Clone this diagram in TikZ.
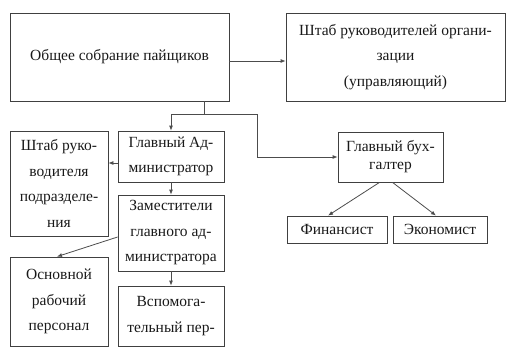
\documentclass[tikz,border=0pt]{standalone}
\usepackage{fontspec}
\setmainfont{Liberation Serif}
\usetikzlibrary{arrows.meta,calc}
\begin{document}
\begin{tikzpicture}[x=1pt,y=-1pt,
  box/.style={draw=black!75,line width=0.8pt,inner sep=0pt,align=center,
    font=\fontsize{15.5}{25.5}\selectfont,text=black!90},
  conn/.style={draw=black!70,line width=0.8pt,-{Latex[length=5pt,width=4pt]}},
  plain/.style={draw=black!70,line width=0.8pt}]
\useasboundingbox (0,0) rectangle (519,353);
\node[box,minimum width=219pt,minimum height=88pt] (b1) at (119.5,57) {Общее собрание пайщиков};
\node[box,minimum width=219pt,minimum height=88pt] (b2) at (395.5,57) {Штаб руководителей органи-\\зации\\(управляющий)};
\node[box,minimum width=106pt,minimum height=51pt] (ga) at (171,156.5) {Главный Ад-\\министратор};
\node[box,minimum width=98pt,minimum height=105pt] (shr) at (59,183.5) {Штаб руко-\\водителя\\подразделе-\\ния};
\node[box,minimum width=105pt,minimum height=50pt,font=\fontsize{15.5}{18}\selectfont] (gb) at (390.5,157) {Главный бух-\\галтер};
\node[box,minimum width=106pt,minimum height=76pt] (zam) at (171,233) {Заместители\\главного ад-\\министратора};
\node[box,minimum width=98pt,minimum height=89pt] (osn) at (59,301.5) {Основной\\рабочий\\персонал};
\node[box,minimum width=106pt,minimum height=60pt] (vsp) at (171,316) {Вспомога-\\тельный пер-};
\node[box,minimum width=100pt,minimum height=27pt] (fin) at (337,229.5) {Финансист};
\node[box,minimum width=94pt,minimum height=27pt] (eko) at (440,229.5) {Экономист};
\coordinate (y61) at (0,61);
\coordinate (j) at (204,114);
\coordinate (k) at (257,114);
\coordinate (y163) at (0,163);
\coordinate (y237) at (0,237);
\draw[conn] (b1.east |- y61) -- (b2.west |- y61);
\draw[plain] (b1.south -| j) -- (j) -- (k);
\draw[conn] (j) -| (ga.north);
\draw[conn] (k) |- (gb.west);
\draw[conn] (ga.west |- y163) -- (shr.east |- y163);
\draw[conn] (ga.south) -- (zam.north);
\draw[conn] (zam.west |- y237) -- ($(osn.north)+(-2,0)$);
\draw[conn] (zam.south) -- (vsp.north);
\draw[conn] ($(gb.south)+(-11,0)$) -- ($(fin.north)+(-9,0)$);
\draw[conn] ($(gb.south)+(2,0)$) -- ($(eko.north)+(-4,0)$);
\end{tikzpicture}
\end{document}
